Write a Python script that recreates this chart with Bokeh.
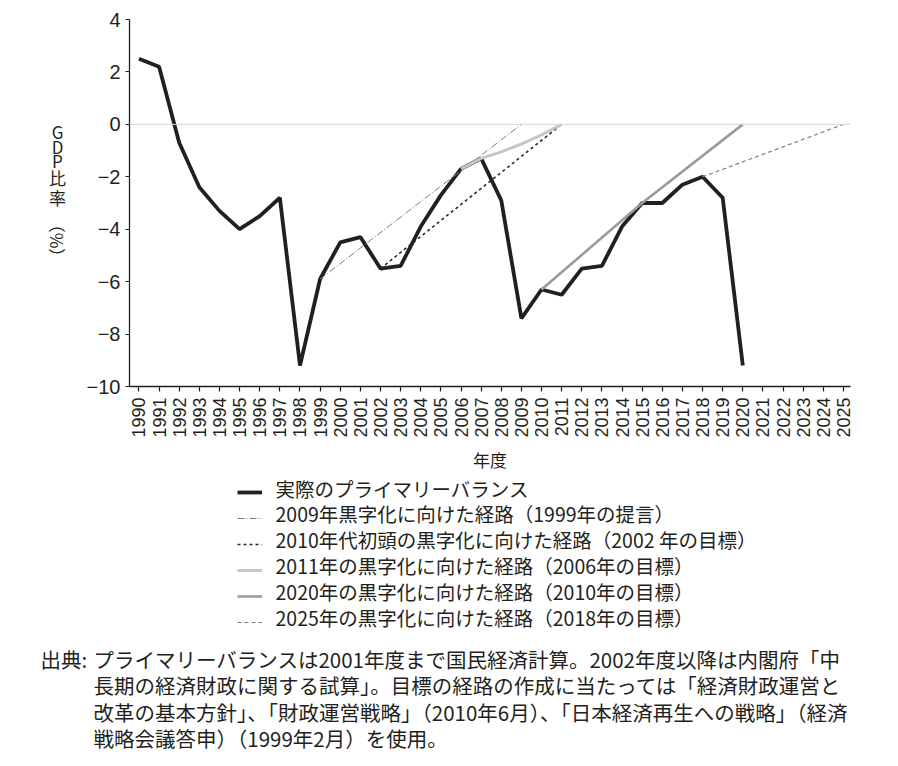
import math
from bokeh.plotting import figure
from bokeh.layouts import column, row
from bokeh.models import (Range1d, FixedTicker, Span, Label, Legend, LegendItem)
from bokeh.embed import file_html
from bokeh.resources import INLINE

# actual primary balance (% of GDP)
years = list(range(1990, 2021))
actual = [2.5, 2.2, -0.7, -2.4, -3.3, -4.0, -3.5, -2.8, -9.2, -5.9,
          -4.5, -4.3, -5.5, -5.4, -3.9, -2.7, -1.7, -1.3, -2.9, -7.4,
          -6.3, -6.5, -5.5, -5.4, -3.9, -3.0, -3.0, -2.3, -2.0, -2.8, -9.2]

# target paths
path2009_years = [1999, 2009]
path2009 = [-5.9, 0.0]
path2010s_years = [2002, 2011]
path2010s = [-5.5, 0.0]
path2011_years = [2006, 2007, 2008, 2009, 2010, 2011]
path2011 = [-1.7, -1.3, -1.05, -0.75, -0.4, 0.0]
path2020_years = [2010, 2015, 2020]
path2020 = [-6.3, -3.0, 0.0]
path2025_years = [2018, 2025]
path2025 = [-2.0, 0.0]

legend_labels = [
    "実際のプライマリーバランス",
    "2009年黒字化に向けた経路（1999年の提言）",
    "2010年代初頭の黒字化に向けた経路（2002 年の目標）",
    "2011年の黒字化に向けた経路（2006年の目標）",
    "2020年の黒字化に向けた経路（2010年の目標）",
    "2025年の黒字化に向けた経路（2018年の目標）",
]
x_ticks = list(range(1990, 2026))
y_ticks = [-10, -8, -6, -4, -2, 0, 2, 4]
ylabel_chars = ["G", "D", "P", "比", "率"]
xlabel = "年度"
note_head = "出典:"
note_lines = [
    "プライマリーバランスは2001年度まで国民経済計算。2002年度以降は内閣府「中",
    "長期の経済財政に関する試算」。目標の経路の作成に当たっては「経済財政運営と",
    "改革の基本方針」、「財政運営戦略」（2010年6月）、「日本経済再生への戦略」（経済",
    "戦略会議答申）（1999年2月）を使用。",
]

INK = "#231f20"
JP = "Noto Sans CJK JP"

series = [
    (years, actual),
    (path2009_years, path2009),
    (path2010s_years, path2010s),
    (path2011_years, path2011),
    (path2020_years, path2020),
    (path2025_years, path2025),
]
styles = [
    dict(line_color=INK, line_width=3.8),
    dict(line_color="#7a7a7a", line_width=1, line_dash="7 2 1 2"),
    dict(line_color="#2a2a2a", line_width=1.6, line_dash="3 3"),
    dict(line_color="#c6c6c6", line_width=3),
    dict(line_color="#9b9b9b", line_width=2.6),
    dict(line_color="#808080", line_width=1.2, line_dash="4 3"),
]

# ---- main chart ----
p = figure(width=820, height=474, output_backend="svg", toolbar_location=None,
           x_range=Range1d(1989.53, 2025.35), y_range=Range1d(-10, 4),
           min_border_left=59, min_border_right=40, min_border_top=19,
           min_border_bottom=86)
p.outline_line_color = None
p.grid.visible = False

p.add_layout(Span(location=0, dimension="width", line_color="#d6d6d6", line_width=1))

for (xs, vals), st in zip(series, styles):
    p.line(xs, vals, **st)

for ax in (p.xaxis[0], p.yaxis[0]):
    ax.axis_line_color = INK
    ax.axis_line_width = 1.3
    ax.major_tick_line_color = INK
    ax.major_tick_line_width = 1.2
    ax.major_tick_in = 0
    ax.minor_tick_line_color = None
    ax.major_label_text_color = INK
    ax.major_label_text_font = "Liberation Sans"

p.xaxis.ticker = FixedTicker(ticks=x_ticks)
p.xaxis.major_tick_out = 5
p.xaxis.major_label_orientation = math.pi / 2
p.xaxis.major_label_text_font_size = "18px"
p.xaxis.major_label_standoff = 6
p.xaxis.axis_label = xlabel
p.xaxis.axis_label_text_font = JP
p.xaxis.axis_label_text_font_style = "normal"
p.xaxis.axis_label_text_font_size = "17px"
p.xaxis.axis_label_text_color = INK
p.xaxis.axis_label_standoff = 6

p.yaxis.ticker = FixedTicker(ticks=y_ticks)
p.yaxis.major_tick_out = 4
p.yaxis.major_label_text_font_size = "20px"
p.yaxis.major_label_standoff = 5
p.yaxis.major_label_overrides = {t: str(t).replace("-", "\u2212") for t in y_ticks}

# ---- left strip: y title stacked upright (frame aligned with main frame) ----
pl = figure(width=70, height=474, output_backend="svg", toolbar_location=None,
            x_range=Range1d(0, 1), y_range=Range1d(0, 1), min_border=0,
            x_axis_type=None, y_axis_type=None)
pl.grid.visible = False
pl.outline_line_color = None
FRAME_BOTTOM = 388
ys = [133, 148, 162, 179, 199]
for ch, yy in zip(ylabel_chars, ys):
    pl.add_layout(Label(x=57, y=FRAME_BOTTOM - yy, x_units="screen", y_units="screen",
                        text=ch, text_font=JP, text_font_size="17px", text_color=INK,
                        text_align="center", text_baseline="middle"))
pl.add_layout(Label(x=57, y=FRAME_BOTTOM - 242, x_units="screen", y_units="screen",
                    text="（%）", angle=-math.pi / 2, text_font=JP,
                    text_font_size="17px", text_color=INK,
                    text_align="center", text_baseline="middle"))

# ---- bottom strip: legend and source note ----
pb = figure(width=890, height=286, output_backend="svg", toolbar_location=None,
            x_range=Range1d(0, 1), y_range=Range1d(0, 1), min_border=0,
            x_axis_type=None, y_axis_type=None)
pb.grid.visible = False
pb.outline_line_color = None
items = []
for (xs, vals), st in zip(series, styles):
    # same series, outside this strip's 0..1 ranges: only the legend sample shows
    r = pb.line(xs, vals, **st)
    items.append(LegendItem(label=" ", renderers=[r]))
legend = Legend(items=items, location=(237, 125), orientation="vertical",
                glyph_width=25, glyph_height=26, label_height=26, spacing=0,
                label_standoff=0, padding=0, margin=0, label_width=1,
                border_line_color=None, background_fill_alpha=0,
                label_text_font_size="1px")
pb.add_layout(legend, "center")

legend_y = [272, 247, 221, 195, 169, 143]
for t, yy in zip(legend_labels, legend_y):
    pb.add_layout(Label(x=275, y=yy, x_units="screen", y_units="screen", text=t,
                        text_font=JP, text_font_size="19.5px", text_color=INK,
                        text_align="left", text_baseline="middle"))

note_y = [102, 76, 49, 23]
pb.add_layout(Label(x=40, y=note_y[0], x_units="screen", y_units="screen",
                    text=note_head, text_font=JP, text_font_size="20.5px",
                    text_color=INK, text_align="left", text_baseline="middle"))
for line, yy in zip(note_lines, note_y):
    pb.add_layout(Label(x=93, y=yy, x_units="screen", y_units="screen", text=line,
                        text_font=JP, text_font_size="20.5px", text_color=INK,
                        text_align="left", text_baseline="middle"))

layout = column(row(pl, p), pb)
open("out.html", "w").write(file_html(layout, INLINE))
